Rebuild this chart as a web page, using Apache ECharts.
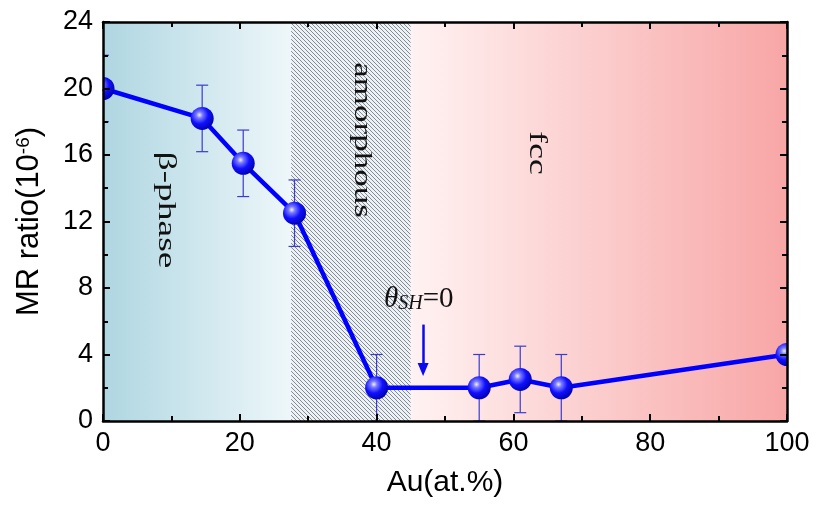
<!DOCTYPE html>
<html>
<head>
<meta charset="utf-8">
<script src="https://cdn.jsdelivr.net/npm/echarts@6/dist/echarts.min.js"></script>
<style>
  html, body { margin: 0; padding: 0; background: #fff; }
  #chart { width: 817px; height: 506px; }
</style>
</head>
<body>
<div id="chart"></div>
<script>
// 数据：Au 含量 (at.%) 与 MR ratio (10^-6)
var auContent = [0, 14.5, 20.5, 28, 40, 55, 61, 67, 100];
var mrRatio   = [20, 18.2, 15.5, 12.5, 2, 2, 2.5, 2, 4];
var mrError   = [2, 2, 2, 2, 2, 2, 2, 2, 0];
var xTicks = [0, 20, 40, 60, 80, 100];
var yTicks = [0, 4, 8, 12, 16, 20, 24];
// 相区边界
var phaseEdges = [0, 27.5, 45, 100];
var phaseNames = ['β-phase', 'amorphous', 'fcc'];
// θSH=0 的箭头 (x, y起点, y终点)
var arrowX = 46.8, arrowFrom = 5.8, arrowTo = 3.1;

var chart = echarts.init(document.getElementById('chart'));

// 斜线填充 (amorphous)
function hatch() {
    var c = document.createElement('canvas');
    c.width = 4; c.height = 4;
    var ctx = c.getContext('2d');
    ctx.fillStyle = '#eef2f5';
    ctx.fillRect(0, 0, 4, 4);
    ctx.fillStyle = '#7f8b97';
    for (var i = 0; i < 4; i++) ctx.fillRect(i, i, 1, 1);
    return c;
}

function grad(c0, c1) {
    return new echarts.graphic.LinearGradient(0, 0, 1, 0, [
        {offset: 0, color: c0}, {offset: 1, color: c1}
    ]);
}

var sphere = new echarts.graphic.RadialGradient(0.38, 0.35, 0.7, [
    {offset: 0, color: '#eef0ff'},
    {offset: 0.2, color: '#7a7aff'},
    {offset: 0.55, color: '#1010ff'},
    {offset: 1, color: '#0000a8'}
]);

var points = auContent.map(function (x, i) { return [x, mrRatio[i]]; });
var errData = auContent.map(function (x, i) { return [x, mrRatio[i] - mrError[i], mrRatio[i] + mrError[i]]; });

var serif = 'Liberation Serif';
var sans = 'Liberation Sans';

function axisBase(ticks, pos, showLabel, fontSize, margin) {
    return {
        type: 'value', position: pos, z: 10,
        min: ticks[0], max: ticks[ticks.length - 1], interval: ticks[1] - ticks[0],
        axisLine: {onZero: false, lineStyle: {color: '#000', width: 2.5}},
        axisTick: {inside: true, length: 7, lineStyle: {color: '#000', width: 2}},
        minorTick: {show: true, splitNumber: 2, length: 5, lineStyle: {color: '#000', width: 2}},
        splitLine: {show: false},
        axisLabel: {show: showLabel, fontFamily: sans, fontSize: fontSize, color: '#000', margin: margin}
    };
}

var xBottom = axisBase(xTicks, 'bottom', true, 27, 9);
xBottom.name = 'Au(at.%)';
xBottom.nameLocation = 'middle';
xBottom.nameGap = 47;
xBottom.nameTextStyle = {fontFamily: sans, fontSize: 30, color: '#000'};

var yLeft = axisBase(yTicks, 'left', true, 27, 10);
yLeft.name = 'MR ratio(10{sup|-6})';
yLeft.nameLocation = 'middle';
yLeft.nameGap = 58;
yLeft.nameRotate = 90;
yLeft.nameTextStyle = {
    fontFamily: sans, fontSize: 31, color: '#000',
    rich: {sup: {fontFamily: sans, fontSize: 19, color: '#000', verticalAlign: 'top'}}
};

var zoneStyles = [
    {color: grad('#afd6e1', '#eef7fa'), opacity: 1},
    {color: {image: hatch(), repeat: 'repeat'}, opacity: 1},
    {color: grad('#fff2f2', '#f8a6a6'), opacity: 1}
];

function phaseLabel(i, x, y, scale) {
    return {
        type: 'text', x: x, y: y, z: 50, rotation: -Math.PI / 2, scaleX: scale,
        style: {text: phaseNames[i], fontFamily: serif, fontSize: 25, fill: '#111', align: 'center', verticalAlign: 'middle'}
    };
}

chart.setOption({
    animation: false,
    grid: {left: 103, right: 30, top: 22, bottom: 85},
    xAxis: [xBottom, axisBase(xTicks, 'top', false)],
    yAxis: [yLeft, axisBase(yTicks, 'right', false)],
    graphic: [
        phaseLabel(0, 166, 210, 1.5),
        phaseLabel(1, 362, 140, 1.4),
        phaseLabel(2, 537, 153, 1.42),
        {type: 'text', x: 384, y: 299, z: 50,
         style: {
             text: '{th|θ}{sub|SH}{n|=0}', align: 'left', verticalAlign: 'middle',
             rich: {
                 th: {fontFamily: serif, fontStyle: 'italic', fontSize: 29, fill: '#111'},
                 sub: {fontFamily: serif, fontStyle: 'italic', fontSize: 20, fill: '#111', verticalAlign: 'bottom'},
                 n: {fontFamily: serif, fontSize: 29, fill: '#111'}
             }
         }}
    ],
    series: [
        {
            // 误差棒
            type: 'custom',
            clip: true,
            z: 2,
            data: errData,
            renderItem: function (params, api) {
                var x = api.value(0);
                if (api.value(2) === api.value(1)) return null;
                var lo = api.coord([x, api.value(1)]);
                var hi = api.coord([x, api.value(2)]);
                var w = 6;
                var st = {stroke: '#3b3bd0', lineWidth: 1.2};
                return {
                    type: 'group',
                    children: [
                        {type: 'line', shape: {x1: hi[0], y1: hi[1], x2: lo[0], y2: lo[1]}, style: st},
                        {type: 'line', shape: {x1: hi[0] - w, y1: hi[1], x2: hi[0] + w, y2: hi[1]}, style: st},
                        {type: 'line', shape: {x1: lo[0] - w, y1: lo[1], x2: lo[0] + w, y2: lo[1]}, style: st}
                    ]
                };
            },
            markArea: {
                silent: true,
                data: phaseNames.map(function (n, i) {
                    return [{xAxis: phaseEdges[i], itemStyle: zoneStyles[i]}, {xAxis: phaseEdges[i + 1]}];
                })
            }
        },
        {
            type: 'line',
            z: 3,
            data: points,
            showSymbol: false,
            lineStyle: {color: '#0000ff', width: 4.5},
            markLine: {
                silent: true,
                symbol: ['none', 'triangle'],
                symbolSize: [11, 13],
                label: {show: false},
                lineStyle: {color: '#0a0aee', width: 2.5, type: 'solid'},
                data: [[{coord: [arrowX, arrowFrom]}, {coord: [arrowX, arrowTo]}]]
            }
        },
        {
            // 球形数据点，裁剪到坐标区
            type: 'custom',
            clip: true,
            z: 4,
            data: points,
            renderItem: function (params, api) {
                var p = api.coord([api.value(0), api.value(1)]);
                return {type: 'circle', shape: {cx: p[0], cy: p[1], r: 11.5}, style: {fill: sphere}};
            }
        }
    ]
});
</script>
</body>
</html>
